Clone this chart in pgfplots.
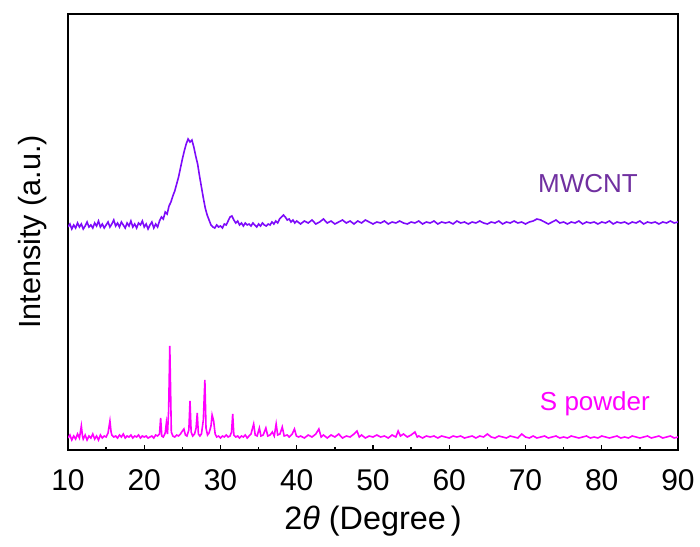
\documentclass[border=0pt]{standalone}
\usepackage{fontspec}
\setmainfont{Liberation Sans}
\usepackage{pgfplots}
\pgfplotsset{compat=1.18}
\usetikzlibrary{calc}
\definecolor{mwc}{RGB}{125,10,250}
\definecolor{mwctext}{RGB}{112,48,160}
\definecolor{spow}{RGB}{255,0,255}

\begin{document}
\begin{tikzpicture}
\begin{axis}[name=ax,
  scale only axis, width=305pt, height=218pt,
  xmin=10, xmax=90, ymin=0, ymax=436,
  xtick={10,20,...,90}, minor x tick num=1,
  ytick=\empty, xtick pos=bottom, tick align=inside,
  major tick length=2.5pt, minor tick length=1.5pt,
  axis line style={line width=0.9pt}, every tick/.style={black,line width=0.7pt},
  /pgf/number format/assume math mode=true,
  ticklabel style={font=\fontsize{15}{18}\selectfont},
  xticklabel style={yshift=-6pt},
  xlabel={2\textit{θ} (Degree\hspace{2.5pt})}, ylabel={Intensity (a.u.)},
  xlabel style={font=\fontsize{16.2}{19}\selectfont, at={(axis description cs:0.5,-0.164)},anchor=center},
  ylabel style={font=\fontsize{15.3}{18}\selectfont, at={(axis description cs:-0.0574,0.5)},anchor=center},
  clip=true]
\addplot[mwc, line width=0.8pt] coordinates {
(10.00,223)(10.25,226)(10.50,221)(10.75,225)(11.00,222)(11.25,227)(11.50,223)(11.75,226)
(12.00,221)(12.25,224)(12.50,228)(12.75,223)(13.00,225)(13.25,222)(13.50,227)(13.75,224)
(14.00,229)(14.25,223)(14.50,226)(14.75,222)(15.00,225)(15.25,228)(15.50,223)(15.75,226)
(16.00,230)(16.25,224)(16.50,227)(16.75,223)(17.00,228)(17.25,225)(17.50,222)(17.75,227)
(18.00,224)(18.25,229)(18.50,223)(18.75,226)(19.00,222)(19.25,227)(19.50,225)(19.75,229)
(20.00,223)(20.25,226)(20.50,221)(20.75,225)(21.00,228)(21.25,222)(21.50,226)(21.75,223)
(22.00,229)(22.25,233)(22.50,231)(22.75,238)(23.00,236)(23.25,244)(23.50,248)(23.75,254)
(24.00,259)(24.25,266)(24.50,273)(24.75,282)(25.00,291)(25.25,299)(25.50,306)(25.75,311)
(26.00,308)(26.25,310)(26.50,303)(26.75,294)(27.00,286)(27.25,274)(27.50,263)(27.75,252)
(28.00,242)(28.25,235)(28.50,230)(28.75,225)(29.00,223)(29.25,222)(29.50,225)(29.75,223)
(30.00,224)(30.25,222)(30.50,226)(30.75,225)(31.00,229)(31.25,233)(31.50,234)(31.75,230)
(32.00,227)(32.25,229)(32.50,225)(32.75,227)(33.00,224)(33.25,227)(33.50,225)(33.75,226)
(34.00,224)(34.25,227)(34.50,225)(34.75,223)(35.00,226)(35.25,224)(35.50,227)(35.75,225)
(36.00,224)(36.25,226)(36.50,225)(36.75,228)(37.00,226)(37.25,229)(37.50,227)(37.75,231)
(38.00,233)(38.25,235)(38.50,233)(38.75,230)(39.00,231)(39.25,228)(39.50,230)(39.75,227)
(40.0,229)(40.5,226)(41.0,229)(41.5,227)(42.0,230)(42.5,226)(43.0,228)(43.5,231)(44.0,227)
(44.5,229)(45.0,226)(45.5,228)(46.0,230)(46.5,227)(47.0,229)(47.5,226)(48.0,229)(48.5,227)
(49.0,230)(49.5,228)(50.0,226)(50.5,228)(51.0,227)(51.5,229)(52.0,226)(52.5,228)(53.0,227)
(53.5,229)(54.0,227)(54.5,226)(55.0,228)(55.5,227)(56.0,229)(56.5,226)(57.0,228)(57.5,227)
(58.0,229)(58.5,226)(59.0,228)(59.5,227)(60.0,228)(60.5,226)(61.0,229)(61.5,227)(62.0,228)
(62.5,226)(63.0,228)(63.5,227)(64.0,229)(64.5,227)(65.0,226)(65.5,228)(66.0,227)(66.5,229)
(67.0,226)(67.5,228)(68.0,227)(68.5,229)(69.0,227)(69.5,228)(70.0,226)(70.5,228)(71.0,229)
(71.5,231)(72.0,230)(72.5,228)(73.0,226)(73.5,228)(74.0,230)(74.5,227)(75.0,228)(75.5,226)
(76.0,228)(76.5,227)(77.0,229)(77.5,226)(78.0,228)(78.5,227)(79.0,228)(79.5,226)(80.0,228)
(80.5,227)(81.0,229)(81.5,226)(82.0,228)(82.5,227)(83.0,228)(83.5,226)(84.0,228)(84.5,227)
(85.0,229)(85.5,226)(86.0,228)(86.5,227)(87.0,228)(87.5,226)(88.0,228)(88.5,227)(89.0,229)
(89.5,227)(90.0,228)
};
\addplot[spow, line width=0.8pt] coordinates {
(10.00,12)(10.25,15)(10.50,10)(10.75,14)(11.00,11)(11.25,16)(11.50,12)(11.75,24)(11.90,14)
(12.00,11)(12.25,15)(12.50,10)(12.75,14)(13.00,12)(13.25,16)(13.50,11)(13.75,14)(14.00,10)
(14.25,15)(14.50,12)(14.75,14)(15.00,13)(15.25,17)(15.50,29)(15.65,18)(15.75,15)(16.00,13)
(16.25,14)(16.50,12)(16.75,15)(17.00,13)(17.25,16)(17.50,12)(17.75,14)(18.00,13)(18.25,15)
(18.50,12)(18.75,14)(19.00,13)(19.25,15)(19.50,12)(19.75,14)(20.00,13)(20.25,14)(20.50,12)
(20.75,13)(21.00,14)(21.25,12)(21.50,15)(21.75,14)(22.00,16)(22.15,32)(22.30,14)(22.50,13)
(22.75,17)(22.90,27)(23.05,16)(23.20,40)(23.35,104)(23.45,62)(23.55,18)(23.75,14)(24.00,13)
(24.25,15)(24.50,14)(24.75,16)(25.00,19)(25.20,21)(25.40,15)(25.60,14)(25.85,20)(26.00,49)
(26.15,18)(26.35,14)(26.60,16)(26.80,22)(26.95,37)(27.10,16)(27.30,14)(27.50,16)(27.75,30)
(27.95,70)(28.10,22)(28.30,15)(28.50,17)(28.75,24)(28.90,35)(29.10,29)(29.30,16)(29.50,13)
(29.75,14)(30.00,12)(30.25,14)(30.50,13)(30.75,15)(31.00,13)(31.25,14)(31.45,18)(31.60,36)
(31.75,15)(32.00,13)(32.25,14)(32.50,12)(32.75,14)(33.00,13)(33.25,15)(33.50,12)(33.75,14)
(34.00,16)(34.35,26)(34.55,15)(34.80,14)(35.10,22)(35.30,14)(35.60,15)(35.95,22)(36.20,14)
(36.50,15)(36.80,18)(37.05,14)(37.30,26)(37.50,15)(37.80,16)(38.10,23)(38.35,14)(38.75,15)
(39.00,13)(39.40,16)(39.70,21)(39.95,14)(40.25,13)(40.5,14)(41.0,12)(41.5,15)(42.0,13)
(42.5,16)(42.9,21)(43.2,13)(43.5,15)(44.0,12)(44.5,15)(45.0,13)(45.5,16)(46.0,12)(46.5,14)
(47.0,13)(47.5,16)(47.9,19)(48.2,13)(48.5,15)(49.0,12)(49.5,14)(50.0,13)(50.5,15)(51.0,13)
(51.5,14)(52.0,12)(52.5,15)(53.0,13)(53.3,19)(53.6,14)(54.0,16)(54.5,13)(55.0,15)(55.5,18)
(55.8,13)(56.0,14)(56.5,12)(57.0,14)(57.5,13)(58.0,14)(58.5,12)(59.0,14)(59.5,13)(60.0,12)
(60.5,14)(61.0,13)(61.5,14)(62.0,12)(62.5,13)(63.0,14)(63.5,12)(64.0,14)(64.5,13)(65.0,16)
(65.5,13)(66.0,12)(66.5,14)(67.0,13)(67.5,12)(68.0,14)(68.5,13)(69.0,12)(69.5,16)(70.0,13)
(70.5,12)(71.0,14)(71.5,12)(72.0,13)(72.5,14)(73.0,12)(73.5,13)(74.0,14)(74.5,12)(75.0,13)
(75.5,12)(76.0,14)(76.5,13)(77.0,12)(77.5,13)(78.0,14)(78.5,12)(79.0,13)(79.5,12)(80.0,14)
(80.5,13)(81.0,12)(81.5,13)(82.0,14)(82.5,12)(83.0,13)(83.5,12)(84.0,14)(84.5,13)(85.0,12)
(85.5,13)(86.0,14)(86.5,12)(87.0,13)(87.5,14)(88.0,12)(88.5,13)(89.0,14)(89.5,12)(90.0,13)
};
\node[text=mwctext, font=\fontsize{13}{15}\selectfont, anchor=center] at (axis cs:78.2,266) {MWCNT};
\node[text=spow, font=\fontsize{13}{15}\selectfont, anchor=center] at (axis cs:79.1,46) {S powder};
\end{axis}
\pgfresetboundingbox
\useasboundingbox ($(ax.south west)+(-34pt,-48pt)$) rectangle ($(ax.north east)+(11pt,7pt)$);
\end{tikzpicture}
\end{document}
